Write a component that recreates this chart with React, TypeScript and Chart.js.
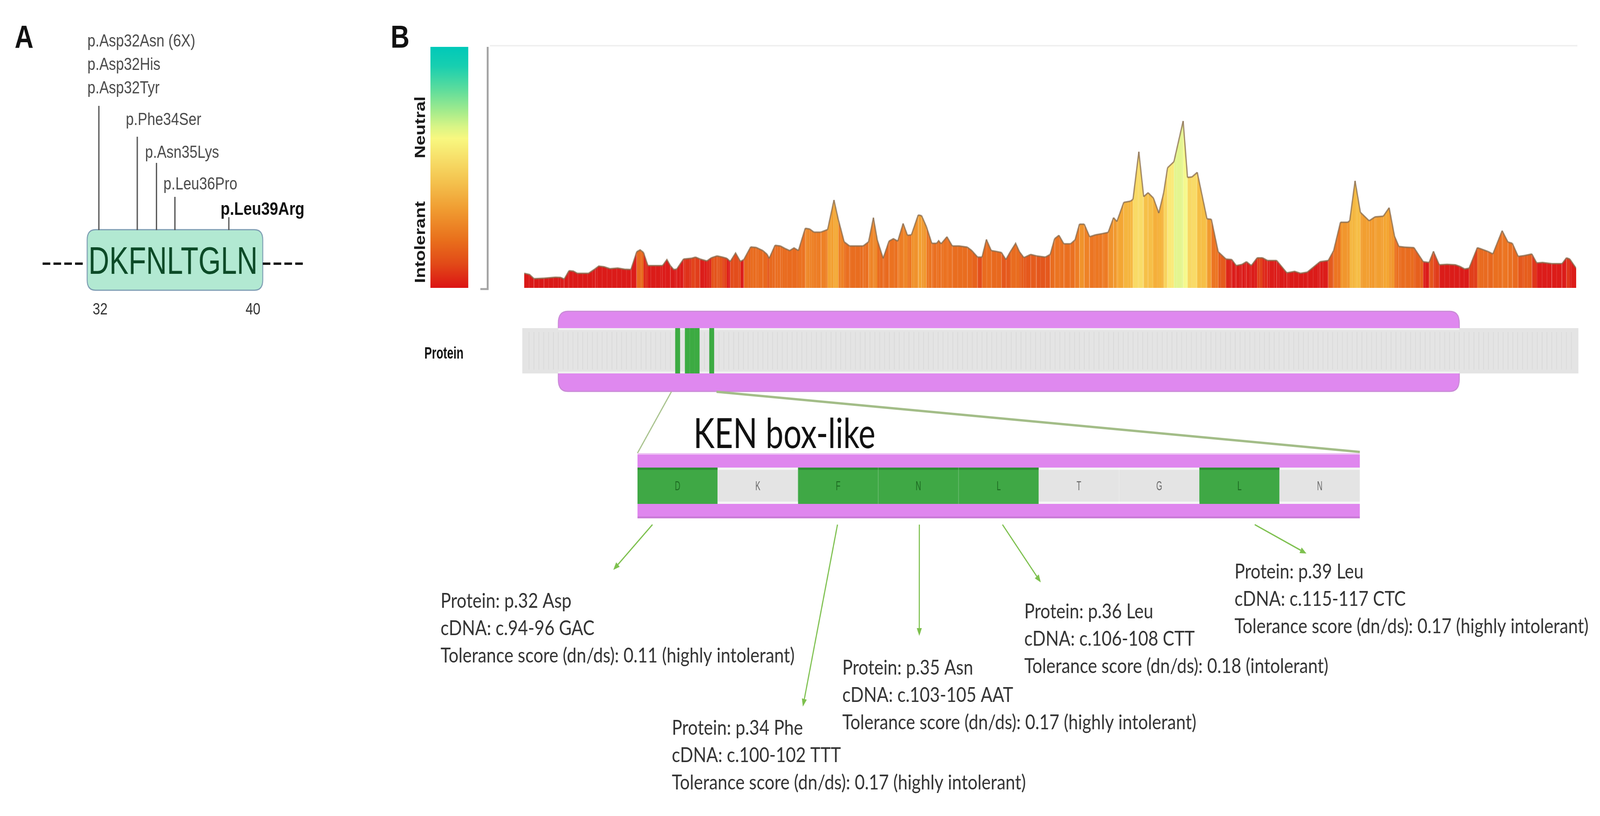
import React, { useEffect, useRef } from "react";
import { Chart, registerables } from "chart.js";

Chart.register(...registerables);

const W = 5030;
const H = 2089;

// ---------------- data ----------------
const motifStart = 32;
const motifSequence = ["D", "K", "F", "N", "L", "T", "G", "L", "N"];
const motifTickLabels = ["32", "40"];
const mutationResidues = [32, 34, 35, 36, 39];
const mutationNames = [
  ["p.Asp32Asn (6X)", "p.Asp32His", "p.Asp32Tyr"],
  ["p.Phe34Ser"],
  ["p.Asn35Lys"],
  ["p.Leu36Pro"],
  ["p.Leu39Arg"],
];
const mutationIsNew = [false, false, false, false, true];

const scaleLabels = ["Neutral", "Intolerant"];
const proteinLength = 216;
const profileResidue = [
  0.5, 1.6, 2.5, 4.6, 6.9, 8.0, 8.7, 9.7, 10.6, 11.4, 13.7, 15.1, 15.8, 16.9, 18.1, 19.7, 21.1, 22.4,
  23.6, 24.3, 25.0, 25.9, 27.5, 28.9, 29.8, 30.5, 31.2, 31.8, 33.2, 34.8, 35.7, 36.6, 38.0, 38.9,
  40.1, 41.2, 42.1, 42.8, 43.9, 44.9, 45.6, 47.0, 48.1, 49.5, 50.4, 50.8, 52.0, 53.1, 54.0, 55.0,
  55.9, 56.8, 58.2, 59.1, 60.0, 61.4, 62.8, 64.1, 65.0, 66.2, 67.3, 70.1, 71.2, 72.2, 73.0, 74.2,
  75.4, 76.3, 77.2, 78.3, 79.2, 80.0, 81.4, 82.1, 83.1, 84.2, 85.2, 85.6, 86.1, 87.3, 88.4, 89.8,
  91.5, 92.4, 93.6, 94.5, 95.4, 96.4, 97.3, 98.5, 99.4, 100.3, 101.4, 102.2, 103.1, 104.5, 105.7,
  107.5, 108.5, 109.4, 110.3, 111.3, 112.7, 113.6, 114.5, 115.5, 116.6, 117.8, 119.2, 120.4, 121.5,
  122.2, 123.6, 125.0, 125.5, 126.7, 127.7, 128.6, 129.7, 130.8, 131.8, 132.6, 133.9, 135.8, 136.7,
  137.6, 138.7, 140.7, 141.6, 143.0, 144.6, 145.8, 146.7, 147.9, 148.8, 149.8, 151.0, 152.1, 153.1,
  155.0, 157.1, 158.7, 159.9, 161.3, 163.9, 165.6, 166.7, 168.1, 169.6, 170.0, 171.1, 172.2, 174.0,
  175.2, 176.9, 178.1, 179.2, 180.1, 181.3, 183.2, 185.1, 186.3, 187.2, 188.4, 190.0, 191.7, 192.6,
  193.6, 194.5, 196.2, 197.1, 198.3, 199.4, 201.3, 202.5, 203.4, 204.6, 205.8, 207.4, 208.4, 209.6,
  211.5, 213.6, 214.5, 215.2, 216.5,
];
const profileScore = [
  0.06, 0.055, 0.038, 0.04, 0.044, 0.043, 0.036, 0.071, 0.069, 0.06, 0.06, 0.079, 0.09, 0.087, 0.079, 0.082, 0.077, 0.076,
  0.149, 0.157, 0.146, 0.092, 0.092, 0.092, 0.117, 0.092, 0.076, 0.077, 0.119, 0.122, 0.127, 0.119, 0.111, 0.124,
  0.132, 0.127, 0.122, 0.109, 0.144, 0.109, 0.117, 0.169, 0.167, 0.154, 0.138, 0.122, 0.176, 0.173, 0.163, 0.154,
  0.165, 0.154, 0.246, 0.243, 0.23, 0.23, 0.241, 0.363, 0.282, 0.19, 0.173, 0.173, 0.19, 0.29, 0.198, 0.122,
  0.193, 0.203, 0.193, 0.266, 0.217, 0.219, 0.301, 0.298, 0.252, 0.184, 0.184, 0.195, 0.182, 0.211, 0.173, 0.173,
  0.168, 0.154, 0.127, 0.127, 0.2, 0.154, 0.151, 0.146, 0.117, 0.149, 0.184, 0.149, 0.125, 0.138, 0.132,
  0.127, 0.138, 0.203, 0.217, 0.182, 0.182, 0.198, 0.263, 0.263, 0.211, 0.219, 0.224, 0.229, 0.29,
  0.274, 0.353, 0.358, 0.366, 0.562, 0.377, 0.393, 0.371, 0.309, 0.393, 0.496, 0.521, 0.689, 0.456,
  0.458, 0.477, 0.285, 0.283, 0.149, 0.119, 0.117, 0.092, 0.097, 0.108, 0.092, 0.124, 0.124, 0.113,
  0.113, 0.062, 0.068, 0.06, 0.065, 0.108, 0.113, 0.154, 0.271, 0.271, 0.277, 0.442, 0.312, 0.277,
  0.293, 0.296, 0.331, 0.214, 0.171, 0.168, 0.166, 0.108, 0.105, 0.151, 0.095, 0.097, 0.095, 0.089,
  0.078, 0.081, 0.166, 0.16, 0.151, 0.14, 0.236, 0.189, 0.184, 0.13, 0.133, 0.14, 0.103, 0.105,
  0.1, 0.1, 0.124, 0.119, 0.081,
];
const domainRange = [8, 192];
const trackLabel = "Protein";
const motifName = "KEN box-like";
const kenResidueNumbers = [32, 33, 34, 35, 36, 37, 38, 39, 40];
const kenIntolerant = [1, 0, 1, 1, 1, 0, 0, 1, 0];
const kenCell = [1, 1, 1, 1, 1, 1, 1, 1, 1];
const noteResidues = [32, 34, 35, 36, 39];
const noteAminoAcid = ["Asp", "Phe", "Asn", "Leu", "Leu"];
const noteCdna = ["c.94-96 GAC", "c.100-102 TTT", "c.103-105 AAT", "c.106-108 CTT", "c.115-117 CTC"];
const noteScore = ["0.11", "0.17", "0.17", "0.18", "0.17"];
const noteClass = ["highly intolerant", "highly intolerant", "highly intolerant", "intolerant", "highly intolerant"];

// ---------------- helpers ----------------
const SANS = '"Liberation Sans", Arial, sans-serif';
const CAL = 'Lato, "Open Sans", sans-serif';

const scoreStops: [number, string][] = [
  [0.0, "#d91616"],
  [0.116, "#dc1d1a"],
  [0.128, "#e4541c"],
  [0.145, "#e8681e"],
  [0.22, "#ec7622"],
  [0.26, "#f0922c"],
  [0.32, "#f4a834"],
  [0.4, "#f7c64c"],
  [0.48, "#f9df6c"],
  [0.56, "#fcfa8c"],
  [0.66, "#c6ef92"],
  [0.72, "#92e0a0"],
  [0.85, "#40d2b2"],
  [1.0, "#00c8b8"],
];
function hexToRgb(h: string) {
  const n = parseInt(h.slice(1), 16);
  return [(n >> 16) & 255, (n >> 8) & 255, n & 255];
}
function colorFor(v: number) {
  for (let i = 1; i < scoreStops.length; i++) {
    if (v <= scoreStops[i][0]) {
      const [a, ca] = scoreStops[i - 1];
      const [b, cb] = scoreStops[i];
      const t = Math.max(0, Math.min(1, (v - a) / (b - a)));
      const A = hexToRgb(ca), B = hexToRgb(cb);
      return `rgb(${Math.round(A[0] + (B[0] - A[0]) * t)},${Math.round(A[1] + (B[1] - A[1]) * t)},${Math.round(A[2] + (B[2] - A[2]) * t)})`;
    }
  }
  return scoreStops[scoreStops.length - 1][1];
}

function txt(ctx: CanvasRenderingContext2D, s: string, x: number, y: number, font: string, color: string, align: CanvasTextAlign = "left", sx = 1, baseline: CanvasTextBaseline = "alphabetic") {
  ctx.save();
  ctx.font = font;
  ctx.fillStyle = color;
  ctx.textAlign = align;
  ctx.textBaseline = baseline;
  ctx.translate(x, y);
  ctx.scale(sx, 1);
  ctx.fillText(s, 0, 0);
  ctx.restore();
}
function rr(ctx: CanvasRenderingContext2D, x: number, y: number, w: number, h: number, r: number) {
  ctx.beginPath();
  ctx.moveTo(x + r, y);
  ctx.lineTo(x + w - r, y);
  ctx.quadraticCurveTo(x + w, y, x + w, y + r);
  ctx.lineTo(x + w, y + h - r);
  ctx.quadraticCurveTo(x + w, y + h, x + w - r, y + h);
  ctx.lineTo(x + r, y + h);
  ctx.quadraticCurveTo(x, y + h, x, y + h - r);
  ctx.lineTo(x, y + r);
  ctx.quadraticCurveTo(x, y, x + r, y);
  ctx.closePath();
}
function line(ctx: CanvasRenderingContext2D, x1: number, y1: number, x2: number, y2: number, color: string, w: number) {
  ctx.save();
  ctx.strokeStyle = color;
  ctx.lineWidth = w;
  ctx.beginPath();
  ctx.moveTo(x1, y1);
  ctx.lineTo(x2, y2);
  ctx.stroke();
  ctx.restore();
}
function arrow(ctx: CanvasRenderingContext2D, x1: number, y1: number, x2: number, y2: number, color: string) {
  const ang = Math.atan2(y2 - y1, x2 - x1);
  const L = 20, hw = 8;
  const bx = x2 - Math.cos(ang) * L, by = y2 - Math.sin(ang) * L;
  line(ctx, x1, y1, bx, by, color, 3.5);
  ctx.save();
  ctx.fillStyle = color;
  ctx.beginPath();
  ctx.moveTo(x2, y2);
  ctx.lineTo(bx + Math.sin(ang) * hw, by - Math.cos(ang) * hw);
  ctx.lineTo(bx - Math.sin(ang) * hw, by + Math.cos(ang) * hw);
  ctx.closePath();
  ctx.fill();
  ctx.restore();
}

// ---------------- panel A ----------------
function drawPanelA(ctx: CanvasRenderingContext2D) {
  txt(ctx, "A", 46, 122, `bold 82px ${SANS}`, "#111");
  ctx.save();
  rr(ctx, 274, 588, 552, 155, 26);
  ctx.fillStyle = "#b2e9d2";
  ctx.fill();
  ctx.strokeStyle = "#7d9db3";
  ctx.lineWidth = 3;
  ctx.stroke();
  ctx.restore();
  ctx.save();
  ctx.strokeStyle = "#111";
  ctx.lineWidth = 6;
  ctx.setLineDash([24, 10]);
  ctx.beginPath();
  ctx.moveTo(134, 675);
  ctx.lineTo(270, 675);
  ctx.moveTo(826, 675);
  ctx.lineTo(956, 675);
  ctx.stroke();
  ctx.restore();
  const seq = motifSequence.join("");
  const seqFont = `98px ${SANS}`;
  ctx.save();
  ctx.font = seqFont;
  const full = ctx.measureText(seq).width;
  const sx = 532 / full;
  const centers = motifSequence.map((c, i) => 278 + sx * (ctx.measureText(seq.slice(0, i)).width + ctx.measureText(c).width / 2));
  ctx.restore();
  txt(ctx, seq, 278, 701, seqFont, "#0c4a27", "left", sx);
  txt(ctx, motifTickLabels[0], centers[0] + 4, 805, `42px ${SANS}`, "#333", "center");
  txt(ctx, motifTickLabels[1], centers[centers.length - 1] + 18, 805, `42px ${SANS}`, "#333", "center");
  const labelBase = [119, 320, 404, 485, 550];
  const stemTop = [271, 350, 417, 504, 556];
  mutationResidues.forEach((r, k) => {
    const cx = centers[r - motifStart];
    line(ctx, cx, stemTop[k], cx, 589, "#555", 4);
    const names = mutationNames[k];
    names.forEach((nm, j) => {
      const by = labelBase[k] + j * 60;
      if (mutationIsNew[k]) txt(ctx, nm, cx - 26, by, `bold 47px ${SANS}`, "#111", "left", 1.02);
      else txt(ctx, nm, cx - 36, by, `44px ${SANS}`, "#4a4a4a", "left", 1.02);
    });
  });
}

// ---------------- panel B (top) ----------------
function drawPanelBStatic(chart: any) {
  const ctx: CanvasRenderingContext2D = chart.ctx;
  const xs = chart.scales.x;
  const area = chart.chartArea;
  txt(ctx, "B", 1228, 122, `bold 82px ${SANS}`, "#111");
  line(ctx, 1540, area.top, area.right + 4, area.top, "#f0f0f0", 4);
  const g = ctx.createLinearGradient(0, area.top + 3, 0, area.bottom);
  const cb: [number, string][] = [
    [0.0, "#00c9b9"], [0.08, "#18cfb0"], [0.18, "#5fdd9c"], [0.27, "#a6ec8c"], [0.33, "#d8f586"],
    [0.38, "#f8f880"], [0.46, "#f7e06a"], [0.56, "#f4c24e"], [0.68, "#f09a30"], [0.8, "#e9701c"],
    [0.9, "#e24a18"], [1.0, "#dc1414"],
  ];
  cb.forEach(([o, c]) => g.addColorStop(o, c));
  ctx.fillStyle = g;
  ctx.fillRect(1353, area.top + 3, 119, area.bottom - area.top - 3);
  [[scaleLabels[0], 326], [scaleLabels[1], 620]].forEach(([s, cy]) => {
    ctx.save();
    ctx.translate(1323, cy as number);
    ctx.rotate(-Math.PI / 2);
    ctx.font = `bold 46px ${SANS}`;
    ctx.fillStyle = "#1a1a1a";
    ctx.textAlign = "center";
    ctx.textBaseline = "middle";
    ctx.fillText(s as string, 0, 0);
    ctx.restore();
  });
  line(ctx, 1533, area.top + 3, 1533, area.bottom + 4, "#a5a5a5", 6);
  line(ctx, 1510, area.bottom + 3, 1536, area.bottom + 3, "#a5a5a5", 5);

  const gx0 = xs.getPixelForValue(0.5) - 6;
  const gx1 = xs.getPixelForValue(proteinLength + 0.5) + 7;
  const px0 = xs.getPixelForValue(domainRange[0] - 0.5);
  const px1 = xs.getPixelForValue(domainRange[1] + 0.5);
  ctx.save();
  rr(ctx, px0, 797, px1 - px0, 205, 30);
  ctx.fillStyle = "#df88ef";
  ctx.fill();
  ctx.strokeStyle = "#c98bd6";
  ctx.lineWidth = 3;
  ctx.stroke();
  ctx.restore();
  ctx.fillStyle = "#e4e4e4";
  ctx.fillRect(gx0, 840, gx1 - gx0, 116);
  ctx.fillStyle = "rgba(255,255,255,0.45)";
  ctx.fillRect(px0, 840, px1 - px0, 5);
  ctx.fillRect(px0, 951, px1 - px0, 5);
  for (let r = 1; r < proteinLength; r++) {
    const x = xs.getPixelForValue(r + 0.5);
    line(ctx, x, 850, x, 946, "rgba(190,190,190,0.35)", 1.5);
  }
  kenResidueNumbers.forEach((r, i) => {
    if (!kenIntolerant[i]) return;
    const a = xs.getPixelForValue(r - 0.5), b = xs.getPixelForValue(r + 0.5);
    ctx.fillStyle = "#3cab42";
    ctx.fillRect(a, 840, b - a, 116);
  });
  txt(ctx, trackLabel, 1457, 918, `bold 42px ${SANS}`, "#111", "right", 0.85);
  const z0 = xs.getPixelForValue(kenResidueNumbers[0] - 0.5) - 12;
  const z1 = xs.getPixelForValue(kenResidueNumbers[kenResidueNumbers.length - 1] + 0.5) - 8;
  line(ctx, z0, 1003, 2004, 1160, "#a9c38e", 3.5);
  line(ctx, z1, 1003, 4275, 1157, "#a3bd88", 6);
}

const mainPlugin = {
  id: "figureMain",
  beforeDraw(chart: any) {
    drawPanelA(chart.ctx);
    drawPanelBStatic(chart);
  },
  beforeDatasetDraw(chart: any) {
    const ctx: CanvasRenderingContext2D = chart.ctx;
    const meta = chart.getDatasetMeta(0);
    const pts = meta.data;
    const area = chart.chartArea;
    const xs = chart.scales.x;
    ctx.save();
    ctx.beginPath();
    ctx.moveTo(pts[0].x, area.bottom);
    pts.forEach((p: any) => ctx.lineTo(p.x, p.y));
    ctx.lineTo(pts[pts.length - 1].x, area.bottom);
    ctx.closePath();
    ctx.clip();
    for (let r = 1; r < proteinLength; r++) {
      const x = xs.getPixelForValue(r + 0.5);
      line(ctx, x, area.top, x, area.bottom, "rgba(255,255,255,0.13)", 2);
    }
    ctx.restore();
  },
};

// ---------------- KEN box + notes ----------------
const kenPlugin = {
  id: "kenBox",
  beforeDatasetsDraw(chart: any) {
    const ctx: CanvasRenderingContext2D = chart.ctx;
    const a = chart.chartArea;
    const w = a.right - a.left;
    ctx.fillStyle = "#df86ee";
    ctx.fillRect(a.left, a.top - 37, w, 37);
    ctx.fillRect(a.left, a.bottom, w, 37);
    ctx.fillStyle = "#eec3f5";
    ctx.fillRect(a.left, a.top - 37, w, 4);
    ctx.fillStyle = "#c97bd7";
    ctx.fillRect(a.left, a.bottom + 32, w, 5);
    ctx.save();
    ctx.font = `106px ${CAL}`;
    const tw = ctx.measureText(motifName).width;
    ctx.restore();
    txt(ctx, motifName, 2180, 1147, `106px ${CAL}`, "#111", "left", 572 / tw);
  },
  afterDatasetsDraw(chart: any) {
    const ctx: CanvasRenderingContext2D = chart.ctx;
    const a = chart.chartArea;
    const meta = chart.getDatasetMeta(0);
    const cw = (a.right - a.left) / kenCell.length;
    meta.data.forEach((bar: any, i: number) => {
      const x0 = bar.x - cw / 2;
      if (kenIntolerant[i]) {
        ctx.fillStyle = "#2f8e35";
        ctx.fillRect(x0, a.top, cw, 6);
      } else {
        ctx.fillStyle = "#f5f5f5";
        ctx.fillRect(x0, a.top, cw, 6);
        ctx.fillRect(x0, a.bottom - 6, cw, 6);
      }
      if (i > 0) line(ctx, x0, a.top, x0, a.bottom, "rgba(255,255,255,0.25)", 2);
      txt(ctx, motifSequence[i], bar.x, (a.top + a.bottom) / 2 + 2, `34px ${SANS}`, kenIntolerant[i] ? "#1d6a22" : "#666", "center", 0.7, "middle");
    });
    const layout = [
      { tx: 1385, ty: 1556, sdx: -79, ex: 1928, ey: 1459 },
      { tx: 2112, ty: 1881, sdx: -2, ex: 2524, ey: 1809 },
      { tx: 2648, ty: 1727, sdx: 3, ex: 2890, ey: 1628 },
      { tx: 3220, ty: 1583, sdx: 12, ex: 3272, ey: 1491 },
      { tx: 3881, ty: 1481, sdx: 48, ex: 4107, ey: 1417 },
    ];
    const nf = `52px ${CAL}`;
    ctx.save();
    ctx.font = nf;
    const ref = ctx.measureText("Tolerance score (dn/ds): 0.17 (highly intolerant)").width;
    ctx.restore();
    const nsx = 1113 / ref;
    noteResidues.forEach((r, k) => {
      const idx = kenResidueNumbers.indexOf(r);
      const bar = meta.data[idx];
      const L = layout[k];
      arrow(ctx, bar.x + L.sdx, a.bottom + 53, L.ex, L.ey, "#7dc04e");
      const lines = [
        `Protein: p.${r} ${noteAminoAcid[k]}`,
        `cDNA: ${noteCdna[k]}`,
        `Tolerance score (dn/ds): ${noteScore[k]} (${noteClass[k]})`,
      ];
      lines.forEach((s, j) => txt(ctx, s, L.tx, L.ty + j * 70, nf, "#333", "left", nsx));
    });
  },
};

export default function App() {
  const mainRef = useRef<HTMLCanvasElement>(null);
  const kenRef = useRef<HTMLCanvasElement>(null);

  useEffect(() => {
    const points = profileResidue.map((r, i) => ({ x: r, y: profileScore[i] }));
    const main = new Chart(mainRef.current as HTMLCanvasElement, {
      type: "line",
      data: {
        datasets: [
          {
            data: points,
            fill: "origin",
            borderColor: "rgba(135,105,75,0.75)",
            borderWidth: 4,
            pointRadius: 0,
            tension: 0,
            backgroundColor: "#e8661e",
            segment: {
              backgroundColor: (c: any) => colorFor((c.p0.parsed.y + c.p1.parsed.y) / 2),
            },
          } as any,
        ],
      },
      options: {
        responsive: false,
        animation: false,
        devicePixelRatio: 1,
        events: [],
        layout: { padding: { left: 1648, right: W - 4955, top: 117, bottom: H - 737 } },
        scales: {
          x: { type: "linear", min: 0.5, max: proteinLength + 0.5, display: false },
          y: { min: 0, max: 1, display: false },
        },
        plugins: { legend: { display: false }, tooltip: { enabled: false } },
      },
      plugins: [mainPlugin],
    });

    const ken = new Chart(kenRef.current as HTMLCanvasElement, {
      type: "bar",
      data: {
        labels: motifSequence,
        datasets: [
          {
            data: kenCell,
            backgroundColor: kenIntolerant.map((f) => (f ? "#3fa845" : "#e4e4e4")),
            borderWidth: 0,
            barPercentage: 1,
            categoryPercentage: 1,
          },
        ],
      },
      options: {
        responsive: false,
        animation: false,
        devicePixelRatio: 1,
        events: [],
        layout: { padding: { left: 2004, right: W - 4275, top: 1197, bottom: H - 1290 } },
        scales: {
          x: { display: false },
          y: { min: 0, max: 1, display: false },
        },
        plugins: { legend: { display: false }, tooltip: { enabled: false } },
      },
      plugins: [kenPlugin],
    });

    return () => {
      main.destroy();
      ken.destroy();
    };
  }, []);

  const cs: React.CSSProperties = { position: "absolute", left: 0, top: 0, width: "100%", height: "100%", display: "block" };
  return (
    <div style={{ position: "fixed", left: 0, top: 0, width: "100vw", height: "100vh", background: "#fff", overflow: "hidden" }}>
      <canvas ref={mainRef} width={W} height={H} style={cs} />
      <canvas ref={kenRef} width={W} height={H} style={cs} />
    </div>
  );
}
